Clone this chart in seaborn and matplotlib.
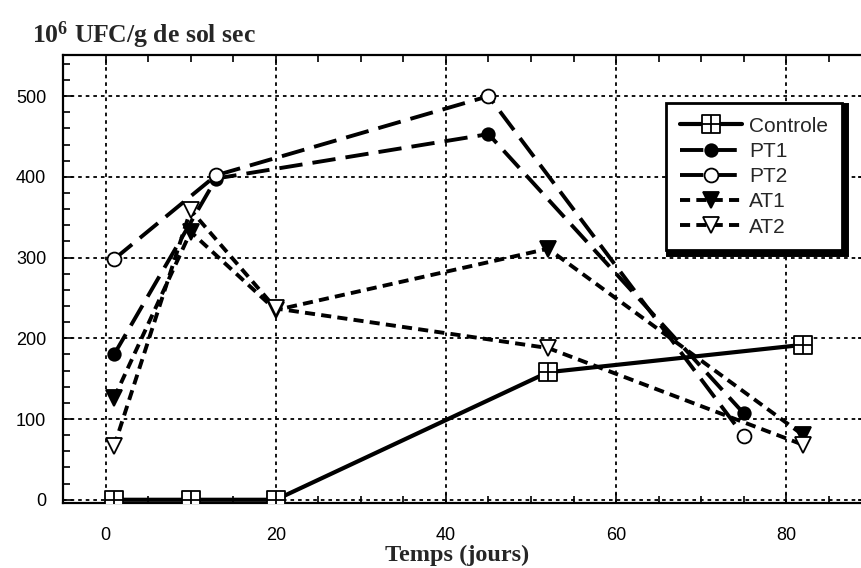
import matplotlib
matplotlib.use('Agg')
import matplotlib.pyplot as plt
import seaborn as sns
import pandas as pd
from matplotlib.path import Path
from matplotlib.ticker import MultipleLocator

# ---- data ----
series_names = ['Controle', 'PT1', 'PT2', 'AT1', 'AT2']
days_controle = [1, 10, 20, 52, 82]
controle = [0, 0, 0, 158, 192]
days_pt = [1, 13, 45, 75]
pt1 = [180, 398, 453, 107]
pt2 = [298, 402, 500, 79]
days_at = [1, 10, 20, 52, 82]
at1 = [126, 332, 235, 311, 80]
at2 = [66, 359, 237, 188, 68]
x_ticks = [0, 20, 40, 60, 80]
y_ticks = [0, 100, 200, 300, 400, 500]
x_label = 'Temps (jours)'
y_label = r'$\mathbf{10^{6}}$ UFC/g de sol sec'

sns.set_style('ticks')
plt.rcParams['font.family'] = ['Liberation Sans', 'DejaVu Sans']
plt.rcParams['mathtext.fontset'] = 'custom'
plt.rcParams['mathtext.bf'] = 'Liberation Serif:bold'
plt.rcParams['mathtext.rm'] = 'Liberation Serif'

W, H = 861, 568
fig = plt.figure(figsize=(W / 100, H / 100), dpi=100)
ax = fig.add_axes([63 / W, 65 / H, (868 - 63) / W, 448 / H])

# square with a cross inside
boxplus = Path(
    [(-1, -1), (1, -1), (1, 1), (-1, 1), (-1, -1), (0, -1), (0, 1), (-1, 0), (1, 0)],
    [Path.MOVETO, Path.LINETO, Path.LINETO, Path.LINETO, Path.CLOSEPOLY,
     Path.MOVETO, Path.LINETO, Path.MOVETO, Path.LINETO])

frames = {
    'Controle': (days_controle, controle),
    'PT1': (days_pt, pt1),
    'PT2': (days_pt, pt2),
    'AT1': (days_at, at1),
    'AT2': (days_at, at2),
}
styles = {
    'Controle': dict(linestyle='-', marker=boxplus, markersize=13, markerfacecolor='white', lw=3.0),
    'PT1': dict(linestyle=(0, (6, 2.6)), marker='o', markersize=9, markerfacecolor='black', lw=2.8),
    'PT2': dict(linestyle=(0, (6, 2.6)), marker='o', markersize=10, markerfacecolor='white', lw=2.8),
    'AT1': dict(linestyle=(0, (2.6, 1.6)), marker='v', markersize=12, markerfacecolor='black', lw=2.8),
    'AT2': dict(linestyle=(0, (2.6, 1.6)), marker='v', markersize=12, markerfacecolor='white', lw=2.8),
}

for name in series_names:
    xs, ys = frames[name]
    df = pd.DataFrame({'x': xs, 'y': ys})
    st = styles[name]
    sns.lineplot(data=df, x='x', y='y', ax=ax, color='black', label=name,
                 sort=False, estimator=None, markeredgecolor='black',
                 markeredgewidth=1.3, zorder=3, **st)

ax.set_xlim(-5.0, 89.6)
ax.set_ylim(-4, 551)
ax.set_xticks(x_ticks)
ax.set_yticks(y_ticks)
ax.xaxis.set_minor_locator(MultipleLocator(5))
ax.yaxis.set_minor_locator(MultipleLocator(20))
ax.tick_params(axis='both', which='both', direction='in', top=True, right=True,
               color='black', width=1.2)
ax.tick_params(axis='both', which='major', length=7, labelsize=13, labelcolor='black')
ax.tick_params(axis='both', which='minor', length=5)
ax.tick_params(axis='x', which='major', pad=17)
ax.tick_params(axis='y', which='major', pad=12)
ax.grid(True, which='major', color='black', linestyle=(0, (2, 2.2)), linewidth=1.3)
ax.set_axisbelow(True)
for sp in ax.spines.values():
    sp.set_color('black')
    sp.set_linewidth(1.6)

ax.set_xlabel(x_label, fontfamily='Liberation Serif', fontweight='bold', fontsize=17.5)
ax.xaxis.set_label_coords((457 - 63) / (868 - 63), -(555 - 503) / 448)
ax.xaxis.label.set_va('center')
ax.set_ylabel('')
fig.text(32 / W, 1 - 43 / H, y_label, fontfamily='Liberation Serif', fontweight='bold',
         fontsize=18.5, ha='left', va='baseline')

leg = ax.legend(loc='upper left', bbox_to_anchor=(666 / W, 1 - 103 / H),
                bbox_transform=fig.transFigure, fontsize=15, frameon=True,
                fancybox=False, framealpha=1, edgecolor='black',
                handlelength=3.0, handletextpad=0.35, labelspacing=0.3,
                borderpad=0.65, borderaxespad=0,
                shadow={'color': 'black', 'alpha': 1, 'linewidth': 5})
leg.get_frame().set_linewidth(2)
leg.set_zorder(10)

fig.savefig('out.png', dpi=100)
